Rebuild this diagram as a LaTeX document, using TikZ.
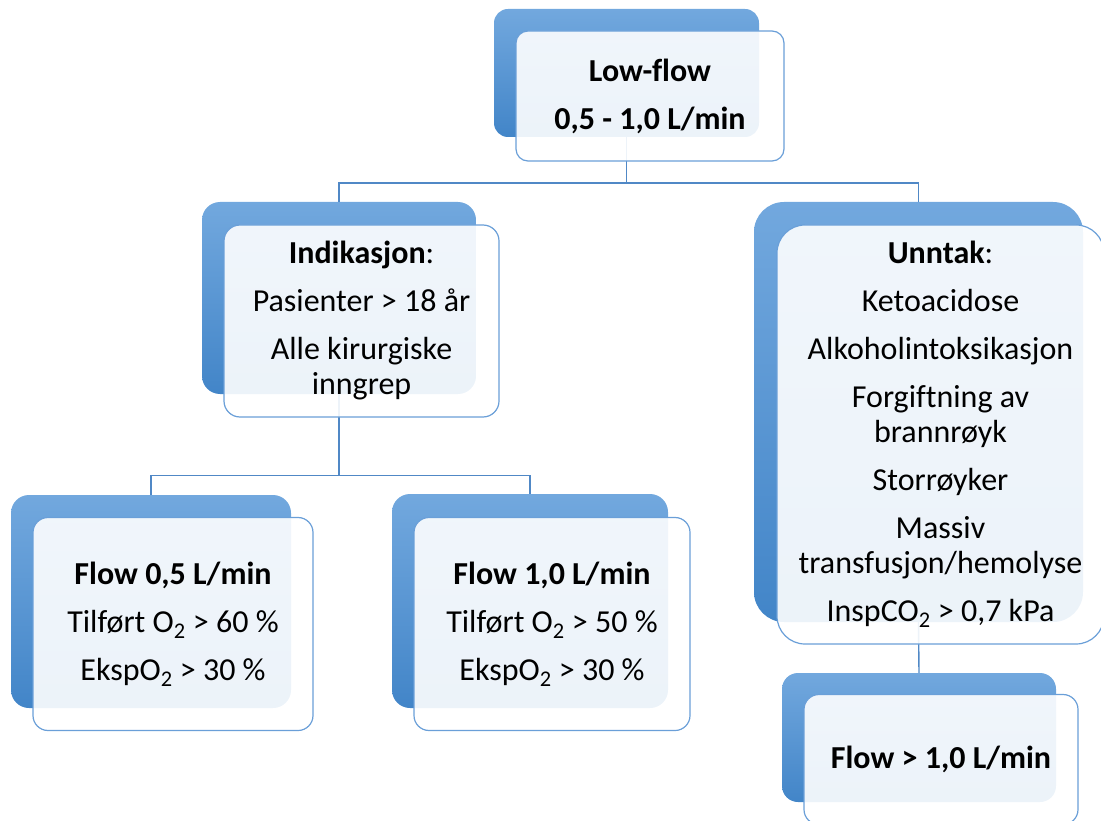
\documentclass[tikz,border=0pt]{standalone}
\usepackage{fontspec}
\setmainfont[Ligatures=NoCommon]{Carlito}
\begin{document}
\begin{tikzpicture}[x=1pt,y=-1pt,
  backbox/.style={rectangle, inner sep=0pt, top color=backtop, bottom color=backbot, draw=none},
  frontbox/.style={rectangle, inner sep=0pt, draw=frontline, line width=1.2pt, fill=white, fill opacity=0.9, text opacity=1, align=center, font=\fontsize{32}{35}\selectfont},
  conn/.style={draw=connline, line width=1.4pt}]
\definecolor{backtop}{HTML}{72A8DE}
\definecolor{backbot}{HTML}{4285C8}
\definecolor{frontline}{HTML}{6A9FD8}
\definecolor{connline}{HTML}{5088C6}
\useasboundingbox (0,0) rectangle (1101,821);
% back shapes
\node[backbox, rounded corners=14pt, minimum width=265pt, minimum height=128pt] (tb) at (626.5,73) {};
\node[backbox, rounded corners=18pt, minimum width=274pt, minimum height=192pt] (lmb) at (339,298) {};
\node[backbox, rounded corners=30pt, minimum width=329pt, minimum height=420pt] (rmb) at (918.5,412) {};
\node[backbox, rounded corners=18pt, minimum width=280pt, minimum height=213pt] (blb) at (151,601.5) {};
\node[backbox, rounded corners=18pt, minimum width=276pt, minimum height=214pt] (bmb) at (530,601) {};
\node[backbox, rounded corners=16pt, minimum width=274pt, minimum height=129pt] (brb) at (919,737.5) {};
% connectors
\draw[conn] (tb.south) -- ++(0,46) -| (lmb.north);
\draw[conn] (tb.south) -- ++(0,46) -| (rmb.north);
\draw[conn] (lmb.south) -- ++(0,81) -| (blb.north);
\draw[conn] (lmb.south) -- ++(0,81) -| (bmb.north);
\draw[conn] (rmb.south) -- (brb.north);
% front boxes with text
\node[frontbox, rounded corners=12pt, minimum width=268pt, minimum height=130pt] (tf) at (650,96)
  {\textbf{Low-flow}\\[13pt]\textbf{0,5 - 1,0 L/min}};
\node[frontbox, rounded corners=16pt, minimum width=275pt, minimum height=192pt] (lmf) at (361.5,321)
  {\textbf{Indikasjon}:\\[13pt]Pasienter > 18 år\\[13pt]Alle kirurgiske\\inngrep};
\node[frontbox, rounded corners=28pt, minimum width=327pt, minimum height=419pt] (rmf) at (940.5,434.5)
  {\textbf{Unntak}:\\[13pt]Ketoacidose\\[13pt]Alkoholintoksikasjon\\[13pt]Forgiftning av\\brannrøyk\\[13pt]Storrøyker\\[13pt]Massiv\\transfusjon/hemolyse\\[13pt]InspCO\textsubscript{2} > 0,7 kPa};
\node[frontbox, rounded corners=15pt, minimum width=280pt, minimum height=213pt] (blf) at (173,624)
  {\textbf{Flow 0,5 L/min}\\[13pt]Tilført O\textsubscript{2} > 60 \%\\[13pt]EkspO\textsubscript{2} > 30 \%};
\node[frontbox, rounded corners=15pt, minimum width=276pt, minimum height=213pt] (bmf) at (552,624)
  {\textbf{Flow 1,0 L/min}\\[13pt]Tilført O\textsubscript{2} > 50 \%\\[13pt]EkspO\textsubscript{2} > 30 \%};
\node[frontbox, rounded corners=15pt, minimum width=274pt, minimum height=130pt] (brf) at (941,759.5)
  {\textbf{Flow > 1,0 L/min}};
\end{tikzpicture}
\end{document}
